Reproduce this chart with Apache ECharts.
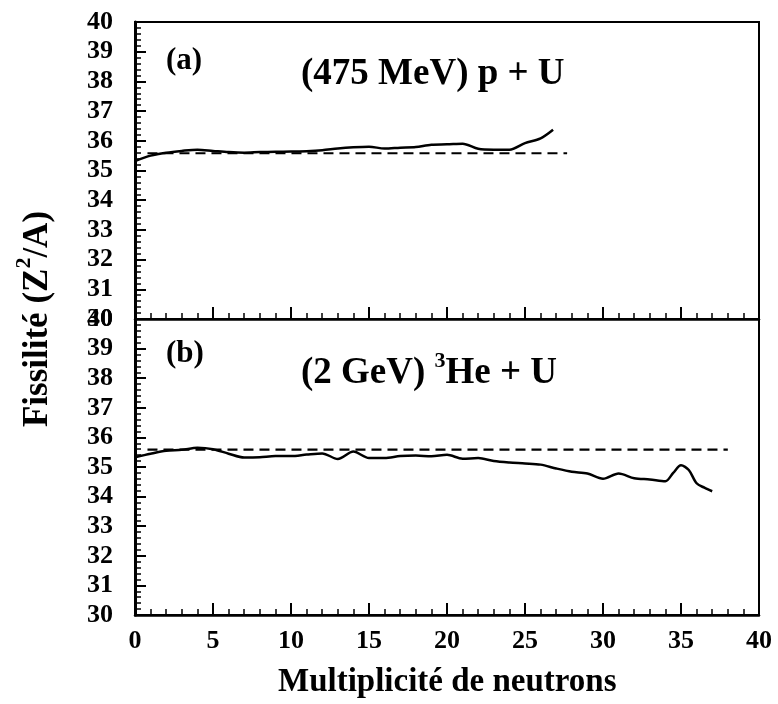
<!DOCTYPE html>
<html>
<head>
<meta charset="utf-8">
<script src="https://cdn.jsdelivr.net/npm/echarts@6/dist/echarts.min.js"></script>
<style>
  html, body { margin: 0; padding: 0; background: #fff; }
  #chart { width: 778px; height: 704px; }
</style>
</head>
<body>
<div id="chart"></div>
<script>
// Fissility vs neutron multiplicity, two reactions on uranium
const xTicks = [0, 5, 10, 15, 20, 25, 30, 35, 40];
const yTicks = [30, 31, 32, 33, 34, 35, 36, 37, 38, 39, 40];

// (a) 475 MeV p + U
const aMult = [0, 1, 2, 3, 4, 5, 6, 7, 8, 9, 10, 11, 12, 13, 14, 15, 16, 17, 18, 19, 20, 21, 22, 23, 24, 25, 26, 26.8];
const aFiss = [35.32, 35.5, 35.6, 35.66, 35.7, 35.66, 35.62, 35.6, 35.62, 35.63, 35.64, 35.65, 35.68, 35.74, 35.78, 35.8, 35.74, 35.77, 35.79, 35.87, 35.88, 35.9, 35.73, 35.7, 35.7, 35.92, 36.08, 36.37];
const aRefMult = [0.8, 27.7];
const aRefFiss = [35.58, 35.58];

// (b) 2 GeV 3He + U
const bMult = [0, 1, 2, 3, 4, 5, 6, 7, 8, 9, 10, 11, 12, 13, 14, 15, 16, 17, 18, 19, 20, 21, 22, 23, 24, 25, 26, 27, 28, 29, 30, 31, 32, 33, 34, 34.5, 35, 35.5, 36, 36.5, 37];
const bFiss = [35.33, 35.45, 35.55, 35.58, 35.65, 35.6, 35.45, 35.32, 35.33, 35.37, 35.37, 35.42, 35.46, 35.27, 35.52, 35.3, 35.3, 35.37, 35.39, 35.36, 35.41, 35.28, 35.3, 35.2, 35.15, 35.12, 35.08, 34.95, 34.84, 34.78, 34.6, 34.78, 34.62, 34.58, 34.52, 34.8, 35.06, 34.9, 34.45, 34.3, 34.18];
const bRefMult = [0.8, 38];
const bRefFiss = [35.59, 35.59];

const FONT = '"Liberation Serif", "Times New Roman", serif';

function pairs(xs, ys) {
  return xs.map((x, i) => [x, ys[i]]);
}

function xAxisFor(gridIndex, showLabels) {
  return {
    type: 'value', gridIndex: gridIndex,
    min: xTicks[0], max: xTicks[xTicks.length - 1], interval: 5,
    axisLine: { show: true, lineStyle: { color: '#000', width: 2.5 } },
    axisTick: { show: true, inside: true, length: 12, lineStyle: { color: '#000', width: 2 } },
    minorTick: { show: true, splitNumber: 5, length: 6, lineStyle: { color: '#000', width: 1.5 } },
    splitLine: { show: false },
    axisLabel: {
      show: showLabels, margin: 13, color: '#000',
      fontFamily: FONT, fontWeight: 'bold', fontSize: 26
    }
  };
}

function yAxisFor(gridIndex) {
  return {
    type: 'value', gridIndex: gridIndex,
    min: yTicks[0], max: yTicks[yTicks.length - 1], interval: 1,
    axisLine: { show: true, lineStyle: { color: '#000', width: 3 } },
    axisTick: { show: true, inside: true, length: 11, lineStyle: { color: '#000', width: 2 } },
    minorTick: { show: true, splitNumber: 5, length: 6, lineStyle: { color: '#000', width: 1.5 } },
    splitLine: { show: false },
    axisLabel: {
      margin: 22, color: '#000',
      fontFamily: FONT, fontWeight: 'bold', fontSize: 26
    }
  };
}

function solid(i, data) {
  return {
    type: 'line', xAxisIndex: i, yAxisIndex: i, data: data,
    showSymbol: false, smooth: 0.3, animation: false,
    lineStyle: { color: '#000', width: 2.5 }
  };
}

function dashed(i, data) {
  return {
    type: 'line', xAxisIndex: i, yAxisIndex: i, data: data,
    showSymbol: false, animation: false,
    lineStyle: { color: '#000', width: 2.2, type: [10, 6] }
  };
}

const chart = echarts.init(document.getElementById('chart'), null, { renderer: 'canvas' });

chart.setOption({
  backgroundColor: '#fff',
  animation: false,
  grid: [
    { left: 135, top: 22, width: 624, height: 297, show: true, borderColor: '#000', borderWidth: 2 },
    { left: 135, top: 319, width: 624, height: 296, show: true, borderColor: '#000', borderWidth: 2 }
  ],
  xAxis: [xAxisFor(0, false), xAxisFor(1, true)],
  yAxis: [yAxisFor(0), yAxisFor(1)],
  series: [
    solid(0, pairs(aMult, aFiss)),
    dashed(0, pairs(aRefMult, aRefFiss)),
    solid(1, pairs(bMult, bFiss)),
    dashed(1, pairs(bRefMult, bRefFiss))
  ],
  graphic: [
    {
      type: 'text', left: 166, top: 45,
      style: { text: '(a)', font: 'bold 31px ' + FONT, fill: '#000' }
    },
    {
      type: 'text', left: 301, top: 56,
      style: { text: '(475 MeV) p + U', font: 'bold 37px ' + FONT, fill: '#000' }
    },
    {
      type: 'text', left: 166, top: 338,
      style: { text: '(b)', font: 'bold 31px ' + FONT, fill: '#000' }
    },
    {
      type: 'text', left: 301, top: 350,
      style: {
        text: '{n|(2 GeV) }{s|3}{n|He + U}',
        fill: '#000',
        rich: {
          n: { fontFamily: FONT, fontWeight: 'bold', fontSize: 37, verticalAlign: 'bottom', lineHeight: 42 },
          s: { fontFamily: FONT, fontWeight: 'bold', fontSize: 22, verticalAlign: 'top', lineHeight: 26 }
        }
      }
    },
    {
      type: 'text', x: 34, y: 319, rotation: Math.PI / 2,
      style: {
        text: '{n|Fissilité (Z}{s|2}{n|/A)}',
        align: 'center', verticalAlign: 'middle',
        fill: '#000',
        rich: {
          n: { fontFamily: FONT, fontWeight: 'bold', fontSize: 35, verticalAlign: 'bottom', lineHeight: 42 },
          s: { fontFamily: FONT, fontWeight: 'bold', fontSize: 22, verticalAlign: 'top', lineHeight: 28 }
        }
      }
    },
    {
      type: 'text', left: 278, top: 666,
      style: { text: 'Multiplicité de neutrons', font: 'bold 33px ' + FONT, fill: '#000' }
    }
  ]
});
</script>
</body>
</html>
